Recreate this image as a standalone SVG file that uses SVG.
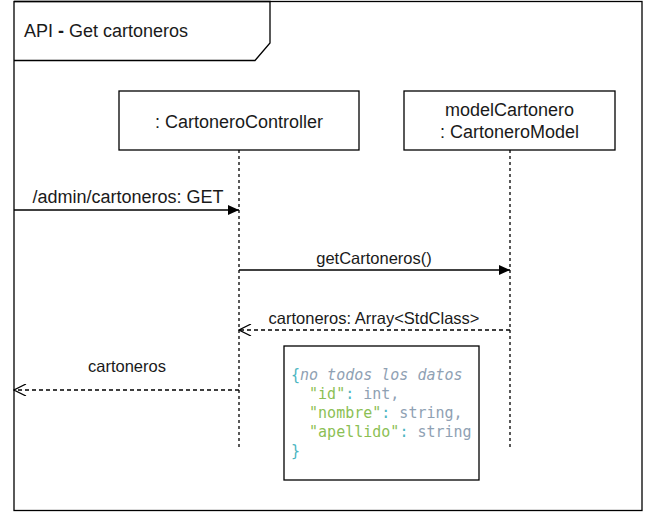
<svg xmlns="http://www.w3.org/2000/svg" width="645" height="513" viewBox="0 0 645 513">
<defs>
<style>
.ln{stroke:#000;stroke-width:1.3;fill:none}
.ll{stroke:#000;stroke-width:1.3;stroke-dasharray:3 3;fill:none}
.rt{stroke:#000;stroke-width:1.3;stroke-dasharray:4 3;fill:none}
.box{fill:#fff;stroke:#000;stroke-width:1.3}
.t{font-family:"Liberation Sans",Arial,sans-serif;font-size:18px;fill:#1a1a1a;text-anchor:middle}
.s{font-size:16.5px}
.code{font-family:"DejaVu Sans Mono","Liberation Mono",monospace;font-size:15px;fill:#8fa1b3}
.br{fill:#4bb5c1}
.str{fill:#8cbf55}
.cm{font-style:italic;fill:#8fa1b3}
</style>
<marker id="fill" markerWidth="12" markerHeight="10" refX="11" refY="5" orient="auto" markerUnits="userSpaceOnUse">
<path d="M0,0 L11,5 L0,10 Z" fill="#000"/>
</marker>
<marker id="open" markerWidth="14" markerHeight="12" refX="13" refY="6" orient="auto" markerUnits="userSpaceOnUse">
<path d="M1,0 L13,6 L1,12" fill="none" stroke="#000" stroke-width="1.3"/>
</marker>
</defs>
<rect width="645" height="513" fill="#fff"/>
<g id="frame">
<rect x="14" y="1.5" width="628" height="509" class="box"/>
<path d="M14,1.5 L270,1.5 L270,43 L255,60.5 L14,60.5" class="ln"/>
<text x="24" y="37" class="t" style="text-anchor:start">API <tspan font-weight="bold">-</tspan> Get cartoneros</text>
</g>
<g id="controller">
<line x1="239" y1="150" x2="239" y2="450" class="ll"/>
<rect x="119" y="91" width="240" height="59" class="box"/>
<text x="239" y="128" class="t">: CartoneroController</text>
</g>
<g id="model">
<line x1="510" y1="150" x2="510" y2="450" class="ll"/>
<rect x="404" y="91" width="211" height="59" class="box"/>
<text x="509.5" y="116" class="t">modelCartonero</text>
<text x="509.5" y="138" class="t">: CartoneroModel</text>
</g>
<g id="connectors">
<line x1="14" y1="210" x2="239" y2="210" class="ln" marker-end="url(#fill)"/>
<text x="128" y="203" class="t">/admin/cartoneros: GET</text>
<line x1="239" y1="270" x2="510" y2="270" class="ln" marker-end="url(#fill)"/>
<text x="374" y="263.5" class="t s">getCartoneros()</text>
<line x1="510" y1="330" x2="239" y2="330" class="rt" marker-end="url(#open)"/>
<text x="374" y="323.5" class="t s">cartoneros: Array&lt;StdClass&gt;</text>
<line x1="239" y1="390" x2="14" y2="390" class="rt" marker-end="url(#open)"/>
<text x="127" y="371.5" class="t s">cartoneros</text>
</g>
<g id="note">
<rect x="284" y="346" width="195" height="134" class="box"/>
<text class="code" x="291" y="380"><tspan class="br">{</tspan><tspan class="cm">no todos los datos</tspan></text>
<text class="code" x="291" y="399" xml:space="preserve">  <tspan class="str">"id"</tspan><tspan class="br">:</tspan> int,</text>
<text class="code" x="291" y="418" xml:space="preserve">  <tspan class="str">"nombre"</tspan><tspan class="br">:</tspan> string,</text>
<text class="code" x="291" y="437" xml:space="preserve">  <tspan class="str">"apellido"</tspan><tspan class="br">:</tspan> string</text>
<text class="code" x="291" y="456"><tspan class="br">}</tspan></text>
</g>
</svg>
